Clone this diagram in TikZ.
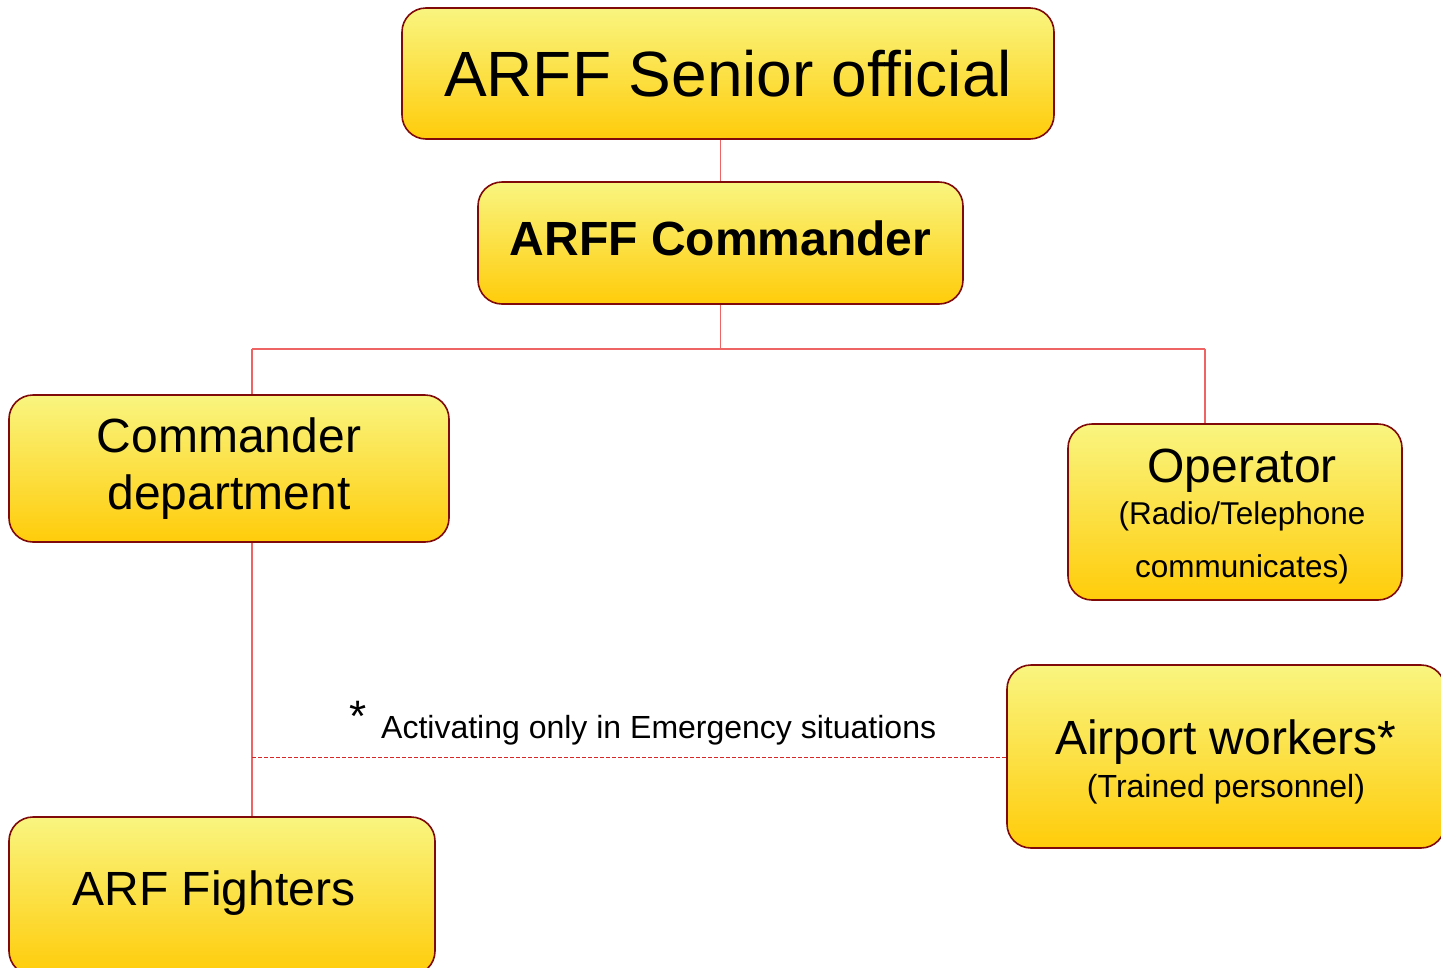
\documentclass[tikz,border=0pt]{standalone}
\usepackage{fontspec}
\setmainfont{Liberation Sans}
\definecolor{boxborder}{RGB}{128,10,10}
\definecolor{boxtop}{RGB}{249,245,128}
\definecolor{boxbot}{RGB}{255,204,10}
\definecolor{linkred}{RGB}{238,100,100}
\definecolor{dashred}{RGB}{215,40,40}
\tikzset{
  orgbox/.style={draw=boxborder, line width=1.6pt, rounded corners=24pt,
    top color=boxtop, bottom color=boxbot, shading angle=0,
    inner sep=0pt, align=center, text=black, anchor=center},
  link/.style={draw=linkred, line width=1.2pt},
  dashlink/.style={draw=dashred, line width=0.9pt, dash pattern=on 4pt off 2pt},
}
\begin{document}
\begin{tikzpicture}[x=1pt,y=-1pt]
\useasboundingbox (0,0) rectangle (1441,967);

\node[orgbox, minimum width=652pt, minimum height=131pt,
  font=\fontsize{64}{70}\selectfont] (sen) at (728,73.5) {ARFF Senior official};

\node[orgbox, minimum width=485pt, minimum height=122pt,
  font=\fontsize{48}{54}\selectfont\bfseries] (cmd) at (720.5,243)
  {\raisebox{4.5pt}[\height][\depth]{ARFF Commander}};

\node[orgbox, minimum width=440pt, minimum height=147pt,
  font=\fontsize{48}{57}\selectfont] (dept) at (229,468.5) {Commander\\department};

\node[orgbox, minimum width=334pt, minimum height=176pt,
  font=\fontsize{31.5}{53}\selectfont] (op) at (1235,512)
  {\hspace*{14pt}\rule{0pt}{42pt}{\fontsize{48}{48}\selectfont Operator}\\[-11pt]\hspace*{14pt}(Radio/Telephone\\\hspace*{14pt}communicates)};

\node[orgbox, minimum width=438pt, minimum height=183pt,
  font=\fontsize{32}{43}\selectfont] (air) at (1226,756.5)
  {\rule{0pt}{45pt}{\fontsize{48}{48}\selectfont Airport workers*}\\(Trained personnel)};

\node[orgbox, minimum width=426pt, minimum height=158pt,
  font=\fontsize{48}{54}\selectfont] (fig) at (222,896)
  {\raisebox{3pt}[\height][\depth]{ARF Fighters\hspace*{16pt}}};

% connectors
\coordinate (busL) at (252,349);
\coordinate (busR) at (1205,349);
\coordinate (dashL) at (252,757);

\draw[link] (sen.south -| cmd.north) -- (cmd.north);
\draw[link] (cmd.south) -- (cmd.south |- busL);
\draw[link] (busL) -- (busR);
\draw[link] (busL) -- (busL |- dept.north);
\draw[link] (busR) -- (busR |- op.north);
\draw[link] (busL |- dept.south) -- (busL |- fig.north);
\draw[dashlink] (dashL) -- (dashL -| air.west);

% note
\node[anchor=base west, inner sep=0pt, font=\fontsize{32}{36}\selectfont] (note) at (381,738)
  {Activating only in Emergency situations};
\node[inner sep=0pt, font=\fontsize{44}{48}\selectfont] (star) at (358,716) {*};
\end{tikzpicture}
\end{document}
